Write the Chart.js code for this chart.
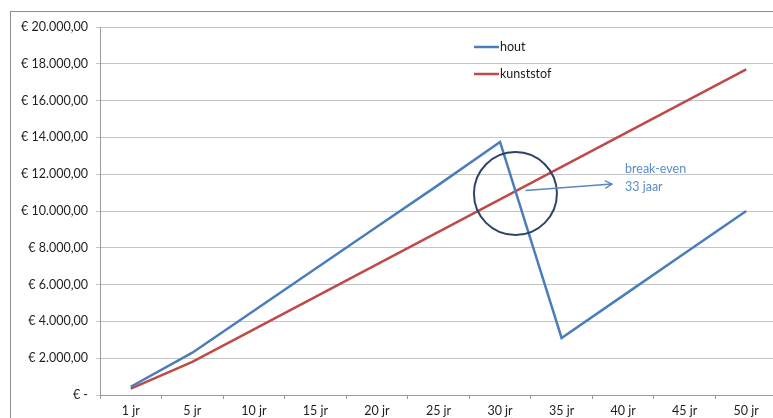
<!DOCTYPE html>
<html>
<head>
<meta charset="utf-8">
<script src="https://cdn.jsdelivr.net/npm/chart.js@4"></script>
<style>
  html, body { margin: 0; padding: 0; background: #fff; overflow: hidden; }
  #wrap { width: 773px; height: 418px; overflow: hidden; position: relative; }
  canvas { display: block; }
</style>
</head>
<body>
<div id="wrap"><canvas id="chart" width="777" height="418"></canvas></div>
<script>
// chart data
const categories = ['1 jr', '5 jr', '10 jr', '15 jr', '20 jr', '25 jr', '30 jr', '35 jr', '40 jr', '45 jr', '50 jr'];
const hout = [450, 2300, 4580, 6860, 9140, 11420, 13750, 3100, 5400, 7700, 10000];
const kunststof = [350, 1800, 3570, 5330, 7100, 8870, 10630, 12400, 14170, 15930, 17700];
const yTicks = [0, 2000, 4000, 6000, 8000, 10000, 12000, 14000, 16000, 18000, 20000];

const FONT = 'Lato, "Open Sans", sans-serif';

function euro(v) {
    if (v === 0) return '€ -';
    const whole = Math.round(v).toString().replace(/\B(?=(\d{3})+(?!\d))/g, '.');
    return '€ ' + whole + ',00';
}

// frame, legend inside the plot and the break-even note
const extras = {
    id: 'extras',
    beforeDraw(chart) {
        const ctx = chart.ctx;
        ctx.save();
        ctx.strokeStyle = '#8c8c8c';
        ctx.lineWidth = 1;
        ctx.strokeRect(10.5, 11.5, 900, 600);
        ctx.restore();
    },
    afterDatasetsDraw(chart) {
        const ctx = chart.ctx;
        const x = chart.scales.x, y = chart.scales.y;
        ctx.save();

        // legend
        ctx.font = '12.5px ' + FONT;
        ctx.textBaseline = 'middle';
        chart.data.datasets.forEach((ds, i) => {
            const ly = 47 + i * 27;
            ctx.strokeStyle = ds.borderColor;
            ctx.lineWidth = 2.5;
            ctx.beginPath();
            ctx.moveTo(474, ly);
            ctx.lineTo(499, ly);
            ctx.stroke();
            ctx.fillStyle = '#1a1a1a';
            ctx.fillText(ds.label, 500, ly);
        });

        // circle around the crossing
        const step = x.getPixelForValue(7) - x.getPixelForValue(6);
        const cx = x.getPixelForValue(6) + 0.25 * step;
        const cy = y.getPixelForValue(10950);
        ctx.strokeStyle = '#2b4466';
        ctx.lineWidth = 2;
        ctx.beginPath();
        ctx.arc(cx, cy, 41.5, 0, Math.PI * 2);
        ctx.stroke();

        // arrow
        const ax0 = cx + 10, ay0 = cy - 3, ax1 = 612, ay1 = 184;
        ctx.strokeStyle = '#5a87bf';
        ctx.lineWidth = 1.3;
        ctx.beginPath();
        ctx.moveTo(ax0, ay0);
        ctx.lineTo(ax1, ay1);
        const ang = Math.atan2(ay1 - ay0, ax1 - ax0);
        ctx.moveTo(ax1 - 8 * Math.cos(ang - 0.5), ay1 - 8 * Math.sin(ang - 0.5));
        ctx.lineTo(ax1, ay1);
        ctx.lineTo(ax1 - 8 * Math.cos(ang + 0.5), ay1 - 8 * Math.sin(ang + 0.5));
        ctx.stroke();

        ctx.fillStyle = '#5b8ccb';
        ctx.font = '12.5px ' + FONT;
        ctx.textAlign = 'left';
        ctx.fillText('break-even', 625, 169);
        ctx.fillText('33 jaar', 625, 187);
        ctx.restore();
    }
};

new Chart(document.getElementById('chart'), {
    type: 'line',
    data: {
        labels: categories,
        datasets: [
            {
                label: 'hout',
                data: hout,
                borderColor: '#4a7ebb',
                backgroundColor: '#4a7ebb',
                borderWidth: 2.5,
                pointRadius: 0,
                tension: 0
            },
            {
                label: 'kunststof',
                data: kunststof,
                borderColor: '#be4b48',
                backgroundColor: '#be4b48',
                borderWidth: 2.5,
                pointRadius: 0,
                tension: 0
            }
        ]
    },
    options: {
        responsive: false,
        animation: false,
        layout: { padding: { top: 27, left: 0, right: 0, bottom: 0 } },
        plugins: {
            legend: { display: false },
            tooltip: { enabled: false }
        },
        scales: {
            x: {
                type: 'category',
                offset: true,
                grid: {
                    offset: true,
                    drawOnChartArea: false,
                    tickLength: 4,
                    color: '#9a9a9a'
                },
                border: { color: '#9a9a9a' },
                ticks: {
                    color: '#1f1f1f',
                    font: { family: FONT, size: 12.5 },
                    padding: 4,
                    maxRotation: 0,
                    autoSkip: false
                },
                afterFit(scale) { scale.height = 23; }
            },
            y: {
                min: 0,
                max: 20000,
                afterBuildTicks(scale) { scale.ticks = yTicks.map(v => ({ value: v })); },
                grid: {
                    color: '#c4c4c4',
                    tickLength: 4
                },
                border: { color: '#9a9a9a' },
                ticks: {
                    color: '#1f1f1f',
                    font: { family: FONT, size: 12.5 },
                    padding: 8,
                    callback: v => euro(v)
                },
                afterFit(scale) { scale.width = 100; }
            }
        }
    },
    plugins: [extras]
});
</script>
</body>
</html>
